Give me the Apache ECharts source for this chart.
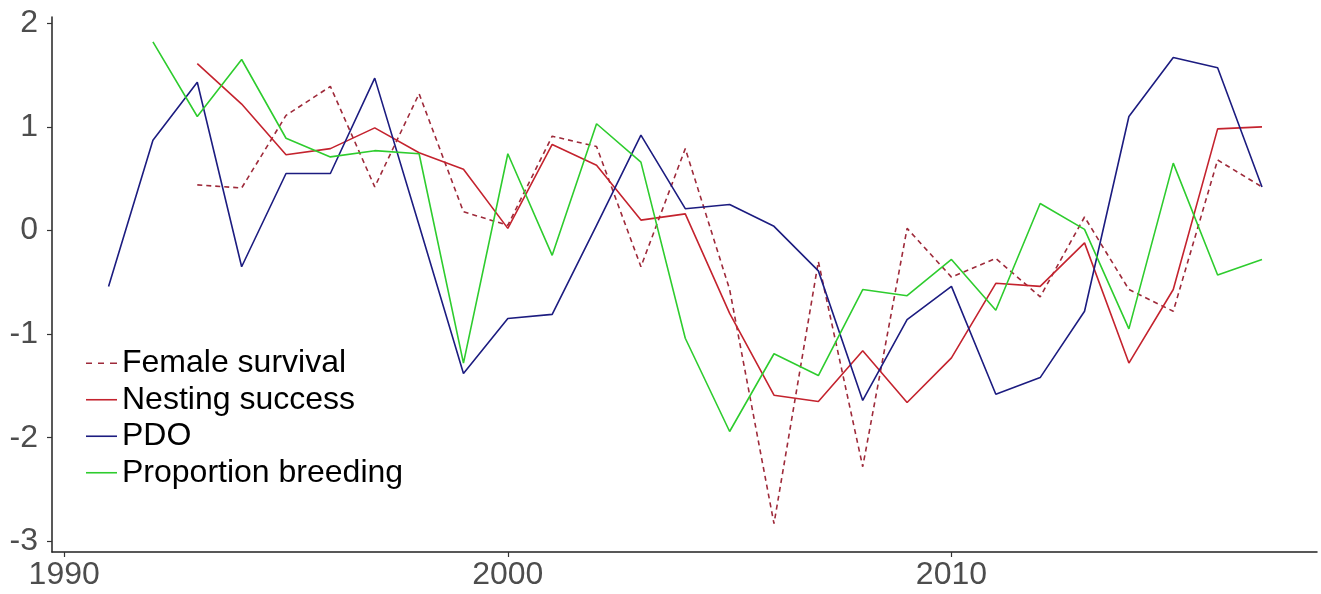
<!DOCTYPE html>
<html>
<head>
<meta charset="utf-8">
<script src="https://cdn.jsdelivr.net/npm/echarts@6/dist/echarts.min.js"></script>
<style>
html,body{margin:0;padding:0;background:#fff;}
#chart{width:1321px;height:594px;}
</style>
</head>
<body>
<div id="chart"></div>
<script>
const years = [1991,1992,1993,1994,1995,1996,1997,1998,1999,2000,2001,2002,2003,2004,2005,2006,2007,2008,2009,2010,2011,2012,2013,2014,2015,2016,2017];
const femaleSurvival = [null,null,0.44,0.41,1.11,1.39,0.42,1.32,0.18,0.05,0.91,0.81,-0.35,0.79,-0.57,-2.83,-0.30,-2.28,0.02,-0.45,-0.27,-0.64,0.13,-0.57,-0.78,0.68,0.42];
const nestingSuccess = [null,null,1.61,1.22,0.73,0.79,0.99,0.75,0.59,0.02,0.83,0.63,0.10,0.16,-0.80,-1.59,-1.65,-1.16,-1.66,-1.23,-0.51,-0.54,-0.12,-1.28,-0.57,0.98,1.00];
const pdo = [-0.54,0.87,1.43,-0.35,0.55,0.55,1.47,0.05,-1.38,-0.85,-0.81,0.05,0.92,0.21,0.25,0.04,-0.39,-1.64,-0.86,-0.54,-1.58,-1.42,-0.78,1.10,1.67,1.57,0.42];
const proportionBreeding = [null,1.82,1.10,1.65,0.89,0.71,0.77,0.74,-1.28,0.74,-0.24,1.03,0.66,-1.04,-1.94,-1.19,-1.40,-0.57,-0.63,-0.28,-0.77,0.26,0.01,-0.95,0.65,-0.43,-0.28];
const xTicks = [1990,2000,2010];
const yTicks = [-3,-2,-1,0,1,2];
const seriesNames = ['Female survival','Nesting success','PDO','Proportion breeding'];
const seriesColors = ['#9e2a3a','#c4232e','#1c1c80','#2ecc2e'];

function pairs(vals){
  const out = [];
  years.forEach((y,i)=>{ if(vals[i]!==null) out.push([y, vals[i]]); });
  return out;
}

const solidIcon = 'path://M0,0h31v1.6h-31z';
const dashIcon = 'path://M0,0h6v1.6h-6zM12,0h6v1.6h-6zM24,0h7v1.6h-7z';

const chart = echarts.init(document.getElementById('chart'), null, {renderer:'canvas'});
const font = 'Liberation Sans, Arial, sans-serif';
const option = {
  animation:false,
  backgroundColor:'#ffffff',
  grid:{left:52, right:4, top:17, bottom:42, containLabel:false},
  legend:{
    orient:'vertical', left:81, top:340,
    itemWidth:31, itemHeight:1.6, itemGap:0,
    textStyle:{fontFamily:font, fontSize:32, color:'#000', lineHeight:36.5, padding:[0,0,0,0]},
    data:seriesNames.map((n,i)=>({name:n, icon: i===0 ? dashIcon : solidIcon, itemStyle:{color:seriesColors[i]}}))
  },
  xAxis:{
    type:'value', min:1989.725, max:2018.24,
    splitLine:{show:false},
    axisLine:{onZero:false, lineStyle:{color:'#222', width:1.5}},
    axisTick:{show:true, length:5, customValues:xTicks, lineStyle:{color:'#333', width:1.2}},
    axisLabel:{customValues:xTicks, formatter:v=>String(v), fontFamily:font, fontSize:32, color:'#4d4d4d', margin:7}
  },
  yAxis:{
    type:'value', min:-3.103, max:2.06,
    splitLine:{show:false},
    axisLine:{show:true, onZero:false, lineStyle:{color:'#222', width:1.5}},
    axisTick:{show:true, length:5, customValues:yTicks, lineStyle:{color:'#333', width:1.2}},
    axisLabel:{customValues:yTicks, formatter:v=>String(v), fontFamily:font, fontSize:32, color:'#4d4d4d', margin:14}
  },
  series:[
    {name:seriesNames[0], type:'line', data:pairs(femaleSurvival), symbol:'none',
     lineStyle:{color:seriesColors[0], width:1.6, type:[5,4]}, itemStyle:{color:seriesColors[0]}},
    {name:seriesNames[1], type:'line', data:pairs(nestingSuccess), symbol:'none',
     lineStyle:{color:seriesColors[1], width:1.6}, itemStyle:{color:seriesColors[1]}},
    {name:seriesNames[2], type:'line', data:pairs(pdo), symbol:'none',
     lineStyle:{color:seriesColors[2], width:1.6}, itemStyle:{color:seriesColors[2]}},
    {name:seriesNames[3], type:'line', data:pairs(proportionBreeding), symbol:'none',
     lineStyle:{color:seriesColors[3], width:1.6}, itemStyle:{color:seriesColors[3]}}
  ]
};
chart.setOption(option);
</script>
</body>
</html>
